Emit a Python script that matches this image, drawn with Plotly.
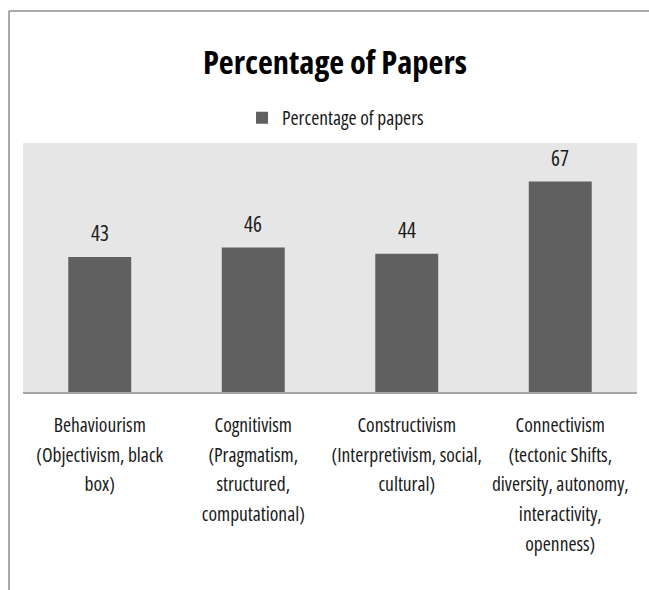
import plotly.graph_objects as go

categories = [
    "Behaviourism<br>(Objectivism, black<br>box)",
    "Cognitivism<br>(Pragmatism,<br>structured,<br>computational)",
    "Constructivism<br>(Interpretivism, social,<br>cultural)",
    "Connectivism<br>(tectonic Shifts,<br>diversity, autonomy,<br>interactivity,<br>openness)",
]
values = [43, 46, 44, 67]
series_name = "Percentage of papers"
title_text = "Percentage of Papers"

BAR_COLOR = "#606060"
FAM = "Open Sans"

def st(s, size, stretch="75%"):
    return "<br>".join(f'<span style="font-size:{size}px;font-stretch:{stretch}">{p}</span>' for p in s.split("<br>"))

tick_text = [st(c, 19.5) for c in categories]
x_idx = list(range(len(categories)))

fig = go.Figure()
fig.add_trace(go.Bar(
    x=x_idx, y=values, name=st(series_name, 19.5),
    marker=dict(color=BAR_COLOR, line=dict(width=0)),
    width=0.41, showlegend=True,
))

for xi, v in zip(x_idx, values):
    fig.add_annotation(x=xi, y=v, text=st(str(v), 21), showarrow=False,
                       yshift=24, yanchor="middle",
                       font=dict(family=FAM, size=21, color="#1a1a1a"))

fig.add_shape(type="line", xref="paper", yref="paper", x0=-0.0228, x1=1.03,
              y0=1.530, y1=1.530, line=dict(color="#8c8c8c", width=1.5))
fig.add_shape(type="line", xref="paper", yref="paper", x0=-0.0228, x1=-0.0228,
              y0=1.530, y1=-0.8, line=dict(color="#8c8c8c", width=1.5))

fig.update_layout(
    width=649, height=590,
    margin=dict(l=23, r=12, t=143, b=198),
    paper_bgcolor="white", plot_bgcolor="#e6e6e6",
    title=dict(text="<b>" + st(title_text, 32.5) + "</b>", x=0.508, xref="paper", xanchor="center",
               y=1 - 63 / 590, yanchor="middle",
               font=dict(family=FAM, size=32.5, color="black")),
    legend=dict(orientation="h", x=0.509, xanchor="center", y=1.10, yanchor="middle",
                font=dict(family=FAM, size=19.5, color="#1a1a1a"), bgcolor="rgba(0,0,0,0)"),
    xaxis=dict(tickmode="array", tickvals=x_idx, ticktext=tick_text,
               range=[-0.5, 3.5], showline=True, linecolor="#a6a6a6", linewidth=2,
               ticks="", showgrid=False, zeroline=False, ticklabelstandoff=10,
               tickfont=dict(family=FAM, size=23, color="#1a1a1a"), tickangle=0),
    yaxis=dict(range=[0, 79.3], visible=False, showgrid=False, zeroline=False),
    bargap=0.59,
)

fig.write_html("out.html")
